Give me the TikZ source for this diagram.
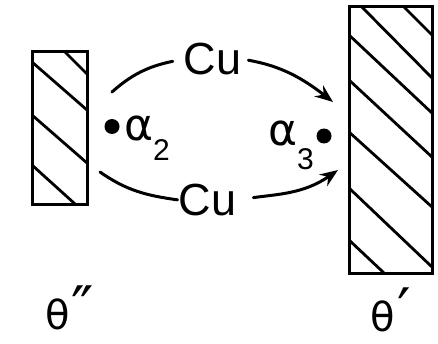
\documentclass[tikz,border=0pt]{standalone}
\usepackage{fontspec}
\setmainfont{Liberation Sans}
\newfontfamily\dvs{DejaVu Sans}
\usetikzlibrary{arrows.meta}
\newcommand{\subdigit}[2]{\raisebox{#1}{\rmfamily\fontsize{30}{30}\selectfont #2}}
\begin{document}
\begin{tikzpicture}[x=1pt,y=1pt,
  lw/.style={line width=3pt},
  slab/.style={draw, lw, inner sep=0pt, outer sep=0pt},
  hatch/.style={line width=2.8pt},
  conn/.style={lw, line cap=round},
  arr/.style={conn, -{Stealth[length=18pt,width=14pt,inset=6pt]}},
  cu/.style={font=\fontsize{45}{45}\selectfont, inner sep=0pt},
  dotn/.style={circle, fill, inner sep=0pt, minimum size=15pt},
  lab/.style={font=\dvs\fontsize{44}{44}\selectfont, inner sep=0pt, anchor=base west},
  theta/.style={font=\dvs\fontsize{40}{40}\selectfont, inner sep=0pt, anchor=base west}
]
\useasboundingbox (0,0) rectangle (438,343);
\fill[white] (0,0) rectangle (438,343);

% hatched slabs
\node[slab, minimum width=55pt, minimum height=152pt] (L) at (59.5,215) {};
\node[slab, minimum width=83pt, minimum height=266pt] (R) at (390.5,203) {};
\begin{scope}
  \clip (L.south west) rectangle (L.north east);
  \draw[hatch] (55,301)--(97,259);
  \draw[hatch] (22,289.7)--(97,224.3);
  \draw[hatch] (22,236.7)--(97,171.3);
  \draw[hatch] (22,187)--(85,130);
\end{scope}
\begin{scope}
  \clip (R.south west) rectangle (R.north east);
  \draw[hatch] (394,346)--(442,298);
  \draw[hatch] (352,346)--(442,255);
  \draw[hatch] (339,317.4)--(442,220.6);
  \draw[hatch] (339,272.3)--(442,176.7);
  \draw[hatch] (339,220)--(442,127);
  \draw[hatch] (339,164.5)--(442,66.5);
  \draw[hatch] (339,112.4)--(394,60.6);
\end{scope}
\node[slab, minimum width=55pt, minimum height=152pt] at (L.center) {};
\node[slab, minimum width=83pt, minimum height=266pt] at (R.center) {};

% Cu labels
\node[cu] (cuT) at (212.5,284) {Cu};
\node[cu] (cuB) at (207.5,143) {Cu};

% dots and alpha labels
\node[dotn] (d2) at (112,216.5) {};
\node[dotn] (d3) at (324,207) {};
\node[lab] (a2) at (124,203) {α\kern0pt\subdigit{-20pt}{2}};
\node[lab] (a3) at (268,197) {α\kern0pt\subdigit{-24pt}{3}};

% connector end points
\coordinate (ta) at (112,251);
\coordinate (tb) at (333,241);
\coordinate (ba) at (100,171);
\coordinate (bb) at (338,173);

\draw[conn, shorten >=11pt] (ta) to[out=42,in=192] (cuT.west);
\draw[arr, shorten <=7pt] (cuT.east) to[out=-10,in=142] (tb);
\draw[conn, shorten >=1pt] (ba) to[out=-35,in=172] (cuB.west);
\draw[arr, shorten <=17pt] (cuB.east) to[out=8,in=215] (bb);

% theta labels
\node[theta] (th2) at (45,14) {θ\kern2pt\scalebox{1.5}{″}};
\node[theta] (th1) at (370,12) {θ\kern3pt\scalebox{1.5}{′}};
\end{tikzpicture}
\end{document}
